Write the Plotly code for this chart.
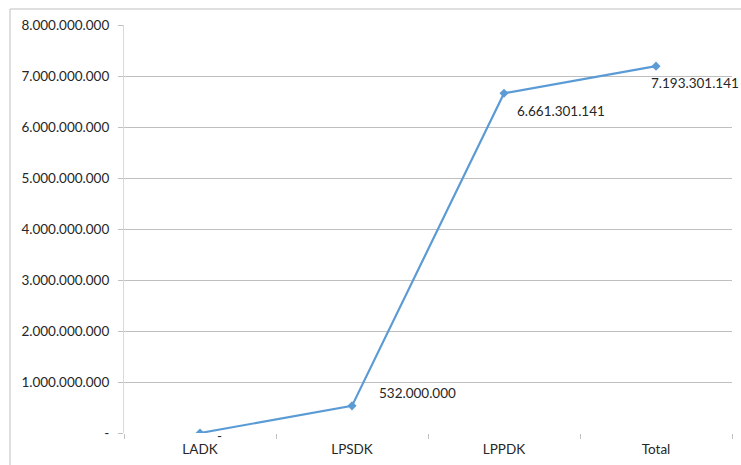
import plotly.graph_objects as go

categories = ["LADK", "LPSDK", "LPPDK", "Total"]
values = [0, 532000000, 6661301141, 7193301141]
y_ticks = [0, 1000000000, 2000000000, 3000000000, 4000000000,
           5000000000, 6000000000, 7000000000, 8000000000]


def fmt(v):
    return "-" if v == 0 else f"{v:,}".replace(",", ".")


line_color = "#5B9BD5"
grid_color = "#BFBFBF"
text_color = "#262626"
font_family = "Lato, 'Open Sans', sans-serif"

fig = go.Figure()
fig.add_trace(go.Scatter(
    x=categories, y=values, mode="lines+markers",
    line=dict(color=line_color, width=2.2),
    marker=dict(symbol="diamond", size=7, color=line_color),
    hoverinfo="skip", showlegend=False,
))

# data labels: pixel offsets from each point
label_offsets = [(15, -3), (25, 13), (11, -18), (-7, -17)]
for cat, val, (dx, dy) in zip(categories, values, label_offsets):
    fig.add_annotation(
        x=cat, y=val, text=fmt(val), showarrow=False,
        xanchor="left", yanchor="middle", xshift=dx, yshift=dy,
        font=dict(size=13.5, color=text_color, family=font_family),
    )

# chart border
fig.add_shape(type="rect", xref="paper", yref="paper",
              x0=-0.1875, x1=1.05, y0=-0.2, y1=1.0392,
              line=dict(color="#BFBFBF", width=1), layer="below")

fig.update_layout(
    width=741, height=465,
    margin=dict(l=124, r=9, t=25, b=32),
    paper_bgcolor="white", plot_bgcolor="white",
    font=dict(family=font_family, size=13.5, color=text_color),
    xaxis=dict(
        type="category", range=[-0.5, 3.5],
        showgrid=False, zeroline=False, showline=False,
        ticks="outside", tickson="boundaries", ticklen=5,
        tickcolor=grid_color, tickfont=dict(size=13.5, color=text_color),
        ticklabelstandoff=6,
    ),
    yaxis=dict(
        range=[0, 8000000000], tickvals=y_ticks,
        ticktext=[fmt(v) for v in y_ticks],
        showgrid=True, gridcolor=grid_color, gridwidth=1,
        zeroline=False, showline=True, linecolor="#D9D9D9", linewidth=1,
        ticks="outside", ticklen=5, tickcolor=grid_color,
        tickfont=dict(size=13.5, color=text_color),
        ticklabelstandoff=6,
    ),
)

fig.write_html("out.html")
